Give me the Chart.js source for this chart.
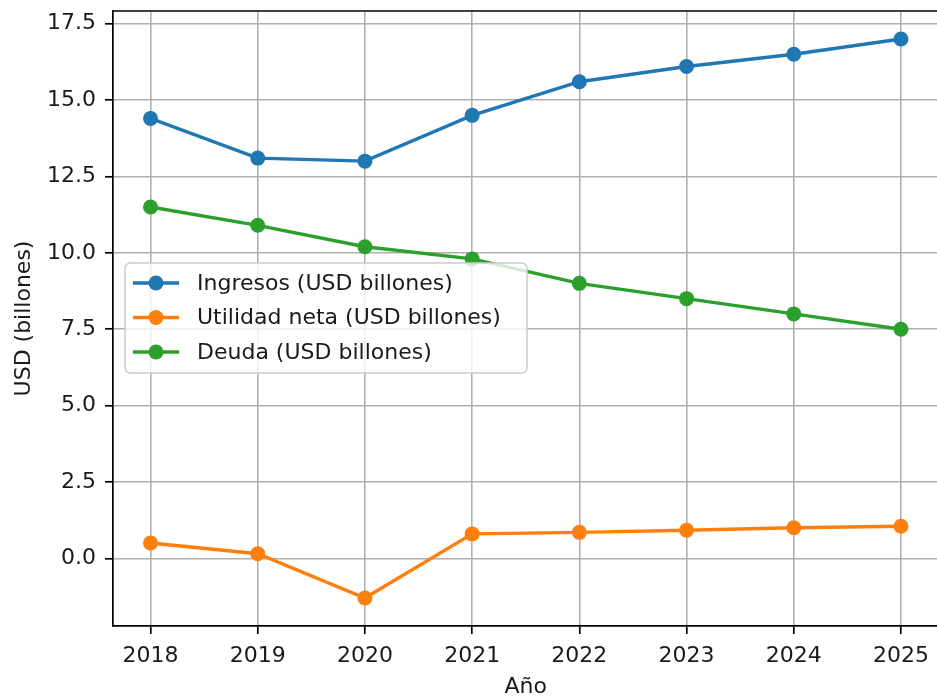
<!DOCTYPE html>
<html>
<head>
<meta charset="utf-8">
<script src="https://cdn.jsdelivr.net/npm/chart.js@4"></script>
<style>
  html, body { margin: 0; padding: 0; background: #fff; overflow: hidden; }
  #wrap { width: 1000px; height: 700px; }
</style>
</head>
<body>
<div id="wrap"><canvas id="finChart"></canvas></div>
<script>
const years = [2018, 2019, 2020, 2021, 2022, 2023, 2024, 2025]
const ingresos = [14.4, 13.1, 13.0, 14.5, 15.6, 16.1, 16.5, 17.0]
const utilidad = [0.5, 0.15, -1.3, 0.8, 0.85, 0.92, 1.0, 1.05]
const deuda = [11.5, 10.9, 10.2, 9.8, 9.0, 8.5, 8.0, 7.5]
const yTicks = [0, 2.5, 5, 7.5, 10, 12.5, 15, 17.5]

const FONT = 'DejaVu Sans'
const series = [
  { label: 'Ingresos (USD billones)', data: ingresos, color: '#1f77b4' },
  { label: 'Utilidad neta (USD billones)', data: utilidad, color: '#ff7f0e' },
  { label: 'Deuda (USD billones)', data: deuda, color: '#2ca02c' },
]

// top spine only, the right one falls outside the window
const frame = {
  id: 'frame',
  afterDatasetsDraw(chart) {
    const { ctx, chartArea: a } = chart
    ctx.save()
    ctx.strokeStyle = '#000'
    ctx.lineWidth = 1.7
    ctx.beginPath()
    ctx.moveTo(a.left - 0.85, a.top)
    ctx.lineTo(a.right, a.top)
    ctx.stroke()
    ctx.restore()
  }
}

// matplotlib-like legend inside the axes
const boxLegend = {
  id: 'boxLegend',
  afterDraw(chart) {
    const { ctx } = chart
    const x = 125, y = 263, w = 402, h = 110, r = 5
    ctx.save()
    ctx.beginPath()
    ctx.roundRect(x, y, w, h, r)
    ctx.fillStyle = 'rgba(255,255,255,0.8)'
    ctx.fill()
    ctx.strokeStyle = '#cccccc'
    ctx.lineWidth = 1.5
    ctx.stroke()
    chart.data.datasets.forEach((ds, i) => {
      const cy = 283 + i * 34.5
      ctx.strokeStyle = ds.borderColor
      ctx.lineWidth = 3.4
      ctx.beginPath()
      ctx.moveTo(133, cy)
      ctx.lineTo(179, cy)
      ctx.stroke()
      ctx.fillStyle = ds.borderColor
      ctx.beginPath()
      ctx.arc(156, cy, 7.5, 0, Math.PI * 2)
      ctx.fill()
      ctx.fillStyle = '#1a1a1a'
      ctx.font = `22px "${FONT}"`
      ctx.textBaseline = 'middle'
      ctx.fillText(ds.label, 197, cy + 1)
    })
    ctx.restore()
  }
}

new Chart(document.getElementById('finChart'), {
  type: 'line',
  data: {
    datasets: series.map(s => ({
      label: s.label,
      data: years.map((yr, i) => ({ x: yr, y: s.data[i] })),
      borderColor: s.color,
      backgroundColor: s.color,
      pointBackgroundColor: s.color,
      pointBorderWidth: 0,
      pointRadius: 7.5,
      borderWidth: 3.4,
      tension: 0,
      fill: false,
    }))
  },
  options: {
    responsive: true,
    maintainAspectRatio: false,
    animation: false,
    layout: { padding: { top: 11, right: 61.5, left: 0, bottom: 0 } },
    plugins: {
      legend: { display: false },
      tooltip: { enabled: false },
    },
    scales: {
      x: {
        type: 'linear',
        min: 2017.65,
        max: 2025.35,
        afterBuildTicks: scale => { scale.ticks = years.map(v => ({ value: v })) },
        afterFit: scale => {
          scale.height = 74
          scale.paddingLeft = 0
          scale.paddingRight = 0
        },
        ticks: {
          autoSkip: false,
          maxRotation: 0,
          padding: 9,
          color: '#1a1a1a',
          font: { family: FONT, size: 22 },
          callback: v => String(v),
        },
        grid: { color: '#b0b0b0', lineWidth: 1.6, tickLength: 8, tickColor: '#000', tickWidth: 1.7 },
        border: { display: true, color: '#000', width: 1.7 },
        title: {
          display: true,
          text: 'Año',
          color: '#1a1a1a',
          font: { family: FONT, size: 22 },
          padding: { top: 0, bottom: 0 },
        },
      },
      y: {
        type: 'linear',
        min: -2.215,
        max: 17.915,
        afterBuildTicks: scale => { scale.ticks = yTicks.map(v => ({ value: v })) },
        afterFit: scale => {
          scale.width = 113
          scale.paddingTop = 0
          scale.paddingBottom = 0
        },
        ticks: {
          padding: 9,
          color: '#1a1a1a',
          font: { family: FONT, size: 22 },
          callback: v => v.toFixed(1),
        },
        grid: { color: '#b0b0b0', lineWidth: 1.6, tickLength: 8, tickColor: '#000', tickWidth: 1.7 },
        border: { display: true, color: '#000', width: 1.7 },
        title: {
          display: true,
          text: 'USD (billones)',
          color: '#1a1a1a',
          font: { family: FONT, size: 22 },
          padding: { top: 11, bottom: 0 },
        },
      },
    },
  },
  plugins: [frame, boxLegend],
})
</script>
</body>
</html>
